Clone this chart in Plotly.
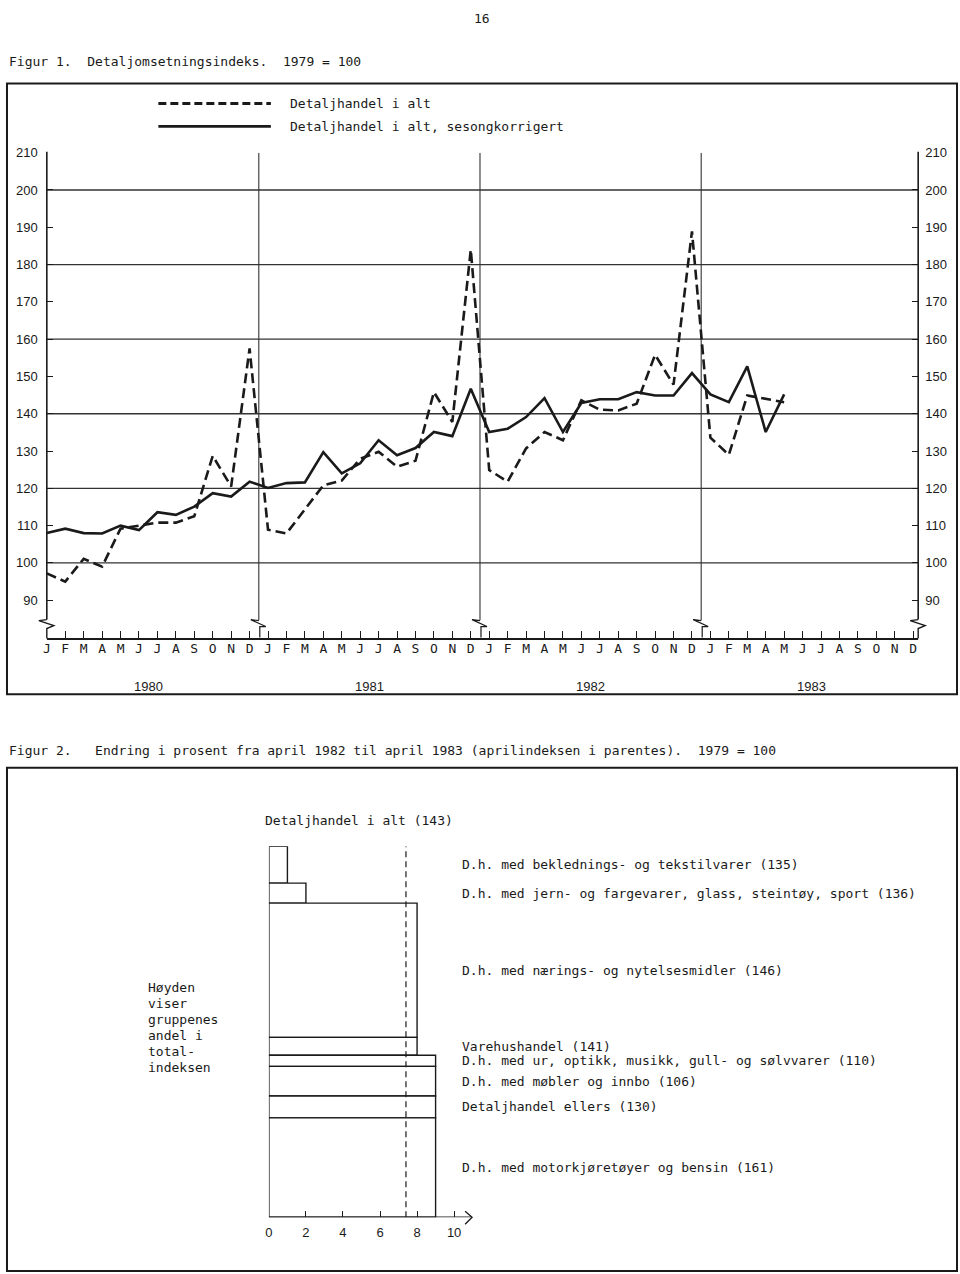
import plotly.graph_objects as go

W, H = 960, 1274

# ---------------- data: Figur 1 ----------------
MONTH_LETTERS = ["J", "F", "M", "A", "M", "J", "J", "A", "S", "O", "N", "D"]
YEARS = ["1980", "1981", "1982", "1983"]
# Detaljhandel i alt, sesongkorrigert (J 1980 - M 1983)
SA_1980 = [108.0, 109.2, 108.0, 107.9, 110.0, 108.8, 113.6, 112.9, 115.1, 118.7, 117.8, 121.8]
SA_1981 = [120.1, 121.4, 121.6, 129.7, 124.0, 126.7, 132.9, 128.9, 130.8, 135.1, 134.0, 146.7]
SA_1982 = [135.1, 136.0, 139.1, 144.2, 135.1, 142.9, 143.9, 143.9, 145.8, 144.9, 144.9, 150.9]
SA_1983 = [145.2, 143.1, 152.7, 135.1, 145.2]
# Detaljhandel i alt
TOT_1980 = [97.2, 95.0, 101.1, 99.0, 109.2, 110.1, 110.8, 110.8, 112.5, 128.7, 120.5, 157.5]
TOT_1981 = [108.9, 107.9, 114.5, 120.8, 122.1, 127.9, 129.8, 125.8, 127.4, 145.8, 137.8, 184.0]
TOT_1982 = [124.9, 121.8, 130.7, 135.1, 132.9, 143.6, 141.1, 140.9, 142.7, 155.8, 147.8, 188.9]
TOT_1983 = [133.6, 129.0, 144.9, 144.0, 143.1]
Y_TICKS = [90, 100, 110, 120, 130, 140, 150, 160, 170, 180, 190, 200, 210]
GRID_VALUES = [100, 120, 140, 160, 180, 200]
SERIES_NAMES = ["Detaljhandel i alt", "Detaljhandel i alt, sesongkorrigert"]

# ---------------- data: Figur 2 ----------------
GROUP_NAMES = [
    "D.h. med beklednings- og tekstilvarer",
    "D.h. med jern- og fargevarer, glass, steintøy, sport",
    "D.h. med nærings- og nytelsesmidler",
    "Varehushandel",
    "D.h. med ur, optikk, musikk, gull- og sølvvarer",
    "D.h. med møbler og innbo",
    "Detaljhandel ellers",
    "D.h. med motorkjøretøyer og bensin",
]
APRIL_INDEX = [135, 136, 146, 141, 110, 106, 130, 161]
WEIGHTS = [9.9, 5.4, 36.2, 4.8, 3.0, 8.0, 5.9, 26.8]   # share of total index (height)
CHANGES = [1.0, 2.0, 8.0, 8.0, 9.0, 9.0, 9.0, 9.0]     # % change April 82 - April 83
TOTAL_NAME = "Detaljhandel i alt"
TOTAL_INDEX = 143
TOTAL_CHANGE = 7.4
X2_TICKS = [0, 2, 4, 6, 8, 10]
NOTE_LINES = ["Høyden", "viser", "gruppenes", "andel i", "total-", "indeksen"]

# ---------------- helpers ----------------
def px(x):
    return x / W

def py(y):
    return 1 - y / H

INK = "#1a1a1a"
MONO = "DejaVu Sans Mono"
SANS = "Liberation Sans"
TXT_DX = -5  # annotation padding compensation

sa = SA_1980 + SA_1981 + SA_1982 + SA_1983
tot = TOT_1980 + TOT_1981 + TOT_1982 + TOT_1983
n_months = len(YEARS) * 12
month_x = list(range(n_months))
month_text = MONTH_LETTERS * len(YEARS)

X_LEFT, X_RIGHT = 43, 918
STEP = 18.51
Y_BOT, Y_TOP = 634, 146.5
XMAX = (X_RIGHT - X_LEFT) / STEP

fig = go.Figure()

fig.add_trace(go.Scatter(
    x=month_x[:len(tot)], y=tot, mode="lines", name=SERIES_NAMES[0],
    line=dict(color=INK, width=2.6, dash="10px,5px"), showlegend=False,
    xaxis="x", yaxis="y"))
fig.add_trace(go.Scatter(
    x=month_x[:len(sa)], y=sa, mode="lines", name=SERIES_NAMES[1],
    line=dict(color=INK, width=2.6), showlegend=False,
    xaxis="x", yaxis="y"))

# Figur 2 blocks
tops = []
acc = 100.0
for w in WEIGHTS:
    tops.append(acc)
    acc -= w
mids = [t - w / 2 for t, w in zip(tops, WEIGHTS)]
fig.add_trace(go.Bar(
    x=CHANGES, y=mids, width=WEIGHTS, base=0, orientation="h",
    marker=dict(color="white", line=dict(color=INK, width=1.4)),
    showlegend=False, xaxis="x2", yaxis="y2", hoverinfo="skip"))
fig.add_trace(go.Scatter(
    x=[TOTAL_CHANGE, TOTAL_CHANGE], y=[0, 100], mode="lines",
    line=dict(color=INK, width=1.2, dash="6px,4px"), showlegend=False,
    xaxis="x2", yaxis="y2"))

shapes = []
annotations = []

def line_px(x0, y0, x1, y1, w=1.5, dash=None):
    d = dict(type="line", xref="paper", yref="paper",
             x0=px(x0), y0=py(y0), x1=px(x1), y1=py(y1),
             line=dict(color=INK, width=w))
    if dash:
        d["line"]["dash"] = dash
    shapes.append(d)

def path_px(points, w=1.5):
    p = "M " + " L ".join(f"{px(a):.5f},{py(b):.5f}" for a, b in points)
    shapes.append(dict(type="path", xref="paper", yref="paper", path=p,
                       line=dict(color=INK, width=w)))

def text_px(x, y, s, size=13, family=MONO, xanchor="left"):
    dx = TXT_DX if xanchor == "left" else 0
    annotations.append(dict(xref="paper", yref="paper", x=px(x + dx), y=py(y), text=s,
                            showarrow=False, xanchor=xanchor, yanchor="middle",
                            font=dict(family=family, size=size, color=INK)))

# page number and captions
text_px(480, 12, "16", xanchor="center")
text_px(8, 55, "Figur 1.  Detaljomsetningsindeks.  1979 = 100")
text_px(8, 748, "Figur 2.   Endring i prosent fra april 1982 til april 1983 (aprilindeksen i parentes).  1979 = 100")

# frames
shapes.append(dict(type="rect", xref="paper", yref="paper", x0=px(3), x1=px(957),
                   y0=py(691), y1=py(77), line=dict(color=INK, width=2)))
shapes.append(dict(type="rect", xref="paper", yref="paper", x0=px(3), x1=px(957),
                   y0=py(1271), y1=py(765), line=dict(color=INK, width=2)))

# legend Figur 1
line_px(155, 97, 268, 97, w=3, dash="8px,4px")
line_px(155, 120, 268, 120, w=2.6)
text_px(290, 97, SERIES_NAMES[0])
text_px(290, 120, SERIES_NAMES[1])

# gridlines
for v in GRID_VALUES:
    shapes.append(dict(type="line", xref="x domain", yref="y", x0=0, x1=1, y0=v, y1=v,
                       line=dict(color="#333", width=1.3), layer="below"))

# year separators
for k in range(1, len(YEARS)):
    xb = 12 * k - 0.5
    shapes.append(dict(type="line", xref="x", yref="y", x0=xb, x1=xb, y0=84.6, y1=210,
                       line=dict(color="#333", width=1.1), layer="below"))
    xp = X_LEFT + xb * STEP
    path_px([(xp, 617), (xp - 8, 616), (xp + 7, 623), (xp + 1, 623), (xp + 1, 634)], w=1.2)

# y axes with breaks
for xa in (X_LEFT, X_RIGHT):
    line_px(xa, Y_TOP - 1, xa, 616, w=1.6)
    path_px([(xa, 616), (xa - 8, 617), (xa + 7, 622), (xa, 625), (xa, 635)], w=1.4)

# year labels
for k, yr in enumerate(YEARS):
    annotations.append(dict(xref="x", yref="paper", x=12 * k + 5.5, y=py(683), text=yr,
                            showarrow=False, xanchor="center", yanchor="middle",
                            font=dict(family=SANS, size=13, color=INK)))

# Figur 2 texts
text_px(265, 818, f"{TOTAL_NAME} ({TOTAL_INDEX})")
for name, idx, m in zip(GROUP_NAMES, APRIL_INDEX, mids):
    annotations.append(dict(xref="paper", yref="y2", x=px(463 + TXT_DX), y=m,
                            text=f"{name} ({idx})",
                            showarrow=False, xanchor="left", yanchor="middle",
                            font=dict(family=MONO, size=13, color=INK)))
for i, s in enumerate(NOTE_LINES):
    text_px(148, 986 + 16 * i, s)

# Figur 2 axis line with arrow
X2_LEFT, X2_STEP = 266, 18.6
shapes.append(dict(type="line", xref="x2", yref="y2", x0=0, x1=10.95, y0=0, y1=0,
                   line=dict(color=INK, width=1.5)))
ax_end = X2_LEFT + 10.97 * X2_STEP
path_px([(ax_end - 7, 1211), (ax_end, 1217), (ax_end - 7, 1224)], w=1.3)

fig.update_layout(
    width=W, height=H, margin=dict(l=0, r=0, t=0, b=0),
    paper_bgcolor="white", plot_bgcolor="rgba(0,0,0,0)",
    shapes=shapes, annotations=annotations, showlegend=False,
    xaxis=dict(domain=[px(X_LEFT), px(X_RIGHT)], range=[0, XMAX], anchor="y",
               tickmode="array", tickvals=month_x, ticktext=month_text,
               ticks="inside", ticklen=7, tickwidth=1.4, tickcolor=INK,
               ticklabelstandoff=-2,
               showline=True, linecolor=INK, linewidth=1.6, mirror=False,
               showgrid=False, zeroline=False,
               tickfont=dict(family=MONO, size=13, color=INK)),
    yaxis=dict(domain=[py(Y_BOT), py(Y_TOP)], range=[80, 210], anchor="x",
               tickmode="array", tickvals=Y_TICKS, ticks="inside", ticklen=6,
               ticklabelstandoff=8,
               tickwidth=1.4, tickcolor=INK, showline=False, showgrid=False,
               zeroline=False, tickfont=dict(family=SANS, size=13, color=INK)),
    yaxis3=dict(overlaying="y", side="right", range=[80, 210], anchor="x",
                tickmode="array", tickvals=Y_TICKS, ticks="inside", ticklen=6,
                ticklabelstandoff=6,
                tickwidth=1.4, tickcolor=INK, showline=False, showgrid=False,
                zeroline=False, tickfont=dict(family=SANS, size=13, color=INK)),
    xaxis2=dict(domain=[px(X2_LEFT), px(X2_LEFT + 11.2 * X2_STEP)], range=[0, 11.2],
                anchor="y2", tickmode="array", tickvals=X2_TICKS, ticks="inside",
                ticklen=6, tickwidth=1.4, tickcolor=INK, showline=False,
                ticklabelstandoff=6,
                showgrid=False, zeroline=False,
                tickfont=dict(family=SANS, size=13, color=INK)),
    yaxis2=dict(domain=[py(1217), py(844)], range=[0, 100], anchor="x2",
                showticklabels=False, ticks="", showline=False, showgrid=False,
                zeroline=False),
)

# a dummy invisible trace to make yaxis3 render
fig.add_trace(go.Scatter(x=[0], y=[80], mode="markers", marker=dict(opacity=0),
                         xaxis="x", yaxis="y3", showlegend=False, hoverinfo="skip"))

fig.write_html("out.html")
